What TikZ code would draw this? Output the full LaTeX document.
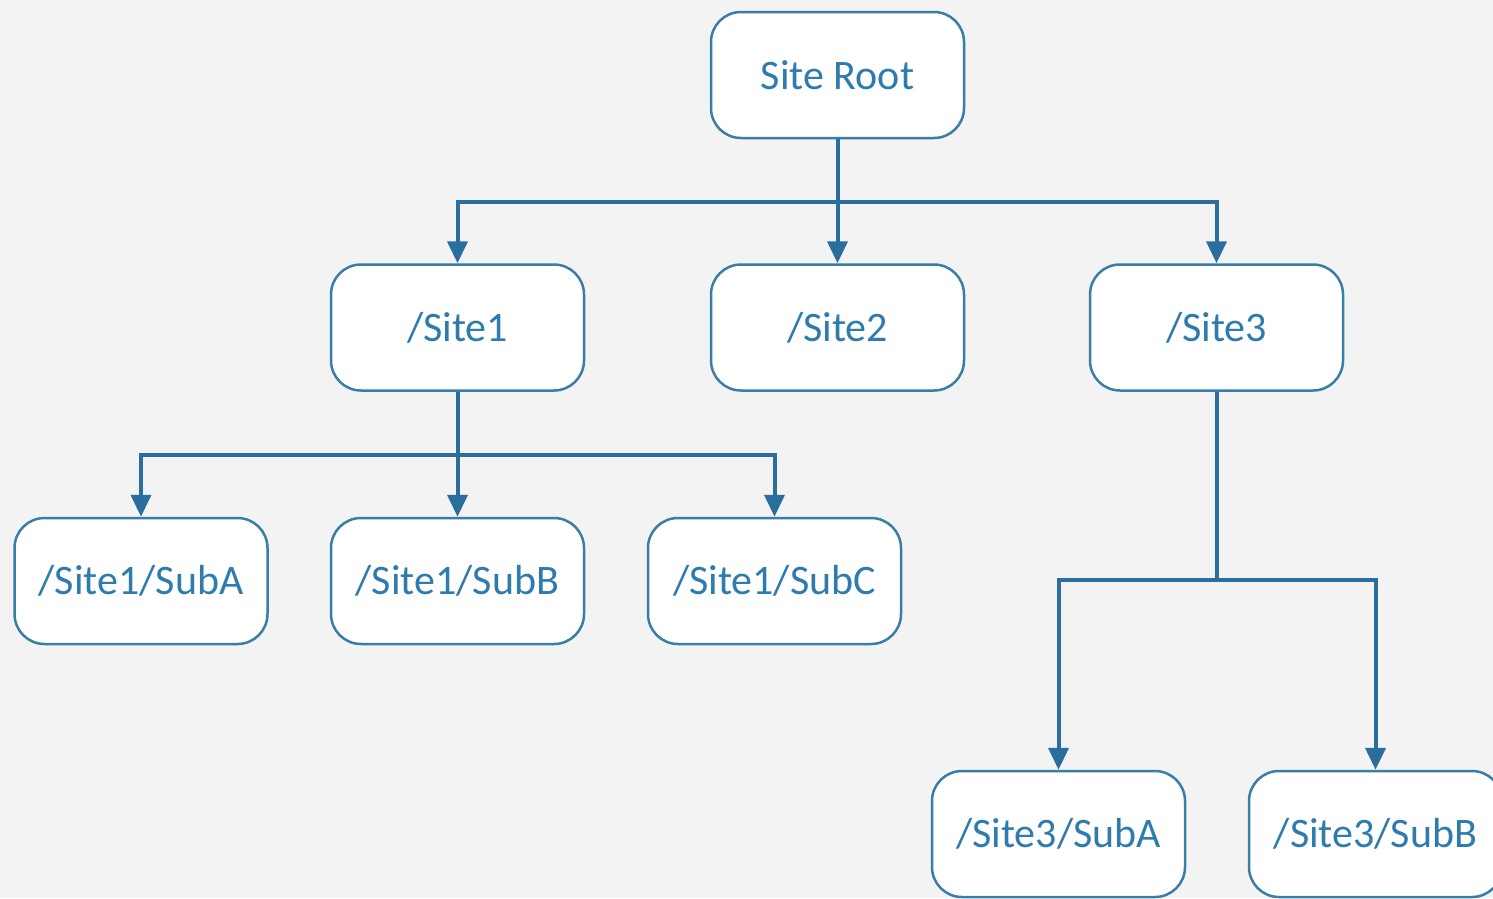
\documentclass[tikz,border=0pt]{standalone}
\usepackage{fontspec}
\setmainfont{Carlito}
\usetikzlibrary{arrows.meta}
\definecolor{bg}{HTML}{F3F3F3}
\definecolor{linec}{HTML}{2A6E9E}
\definecolor{boxc}{HTML}{3A7DA6}
\definecolor{txtc}{HTML}{2E7BAE}
\tikzset{
  sitebox/.style={draw=boxc, line width=2.5pt, fill=white, rounded corners=30pt,
    minimum width=253pt, minimum height=126pt, inner sep=0pt, text=txtc,
    font=\fontsize{42}{44}\selectfont},
  conn/.style={draw=linec, line width=4pt},
  arr/.style={conn, -{Triangle[length=22pt,width=20pt]}}
}
\begin{document}
\begin{tikzpicture}[x=1pt,y=-1pt]
\fill[bg] (0,0) rectangle (1493,898);
\useasboundingbox (0,0) rectangle (1493,898);
\node[sitebox] (root) at (837.5,75) {Site Root};
\node[sitebox] (s1) at (457.5,327.5) {/Site1};
\node[sitebox] (s2) at (837.5,327.5) {/Site2};
\node[sitebox] (s3) at (1216.5,327.5) {/Site3};
\node[sitebox] (s1a) at (141,581) {/Site1/SubA};
\node[sitebox] (s1b) at (457.5,581) {/Site1/SubB};
\node[sitebox] (s1c) at (774.5,581) {/Site1/SubC};
\node[sitebox] (s3a) at (1058.5,834) {/Site3/SubA};
\node[sitebox] (s3b) at (1375.5,834) {/Site3/SubB};
\coordinate (j0) at (837.5,202);
\coordinate (j1) at (457.5,455);
\coordinate (j3) at (1216.5,580);
\draw[arr] (root.south) -- (s2.north);
\draw[arr] (j0) -| (s1.north);
\draw[arr] (j0) -| (s3.north);
\draw[arr] (s1.south) -- (s1b.north);
\draw[arr] (j1) -| (s1a.north);
\draw[arr] (j1) -| (s1c.north);
\draw[conn] (s3.south) -- (j3);
\draw[arr] (j3) -| (s3a.north);
\draw[arr] (j3) -| (s3b.north);
\end{tikzpicture}
\end{document}
